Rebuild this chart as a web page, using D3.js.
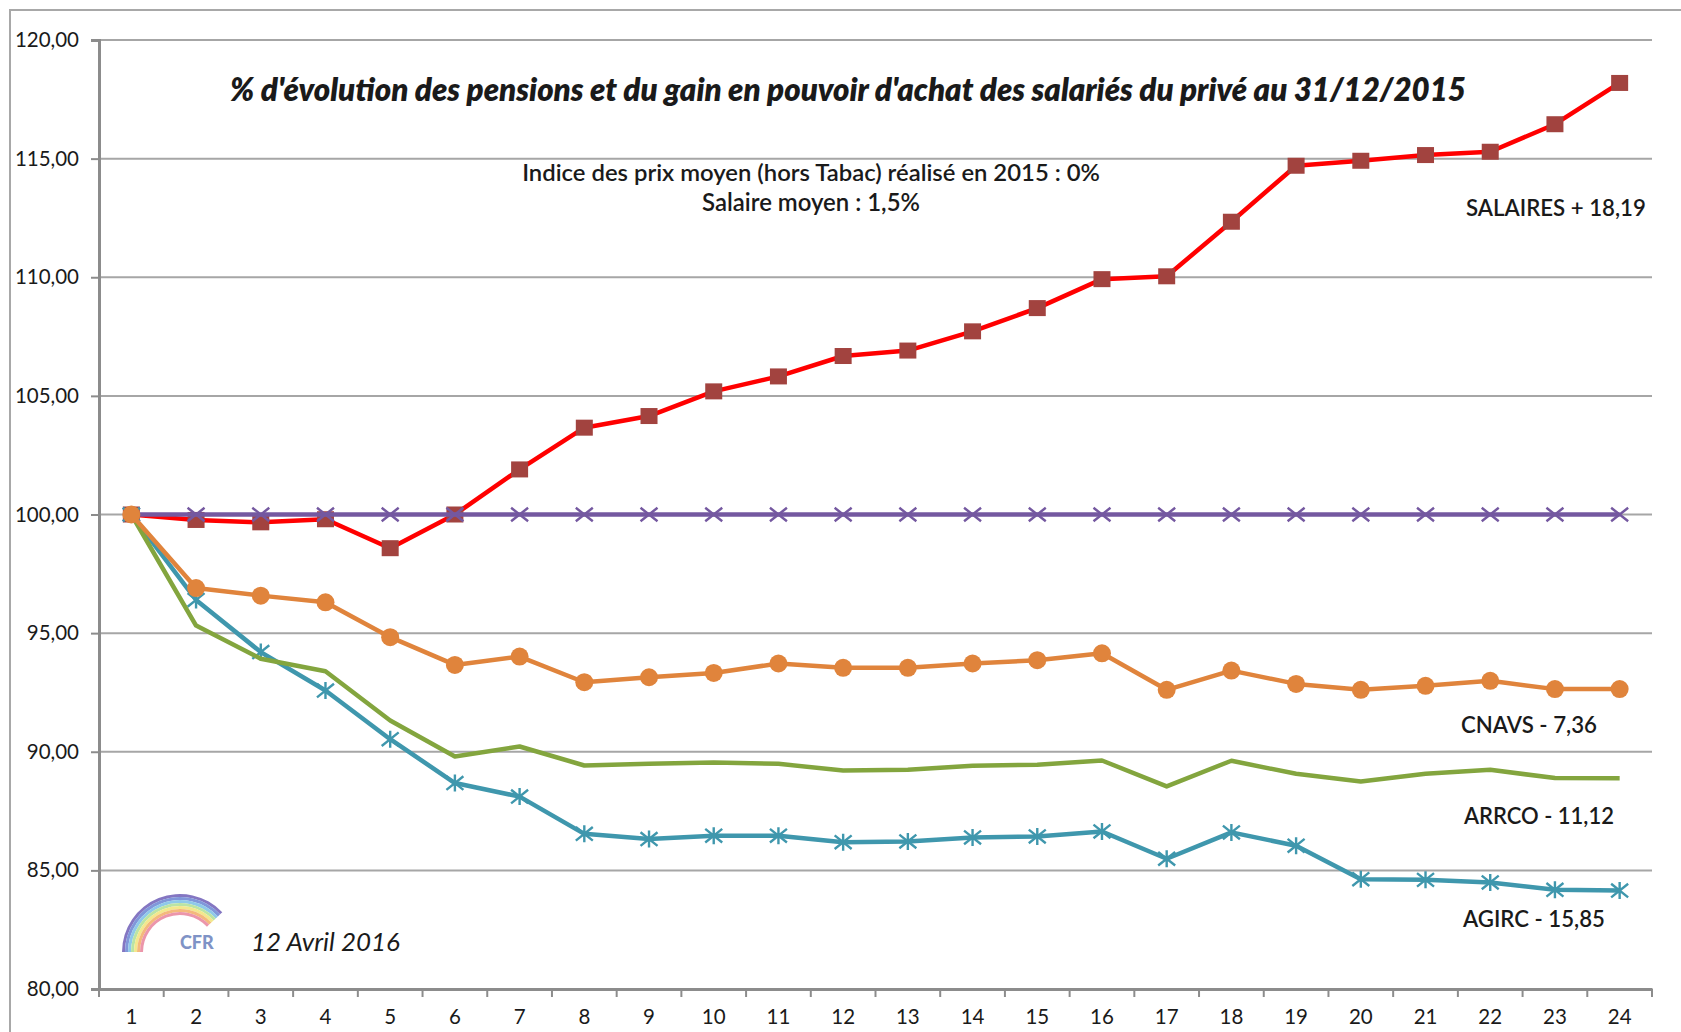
<!DOCTYPE html>
<html>
<head>
<meta charset="utf-8">
<script src="https://cdn.jsdelivr.net/npm/d3@7"></script>
<style>
  body { margin: 0; background: #fff; }
  text { font-family: Lato, "Open Sans", sans-serif; fill: #1a1a1a; }
</style>
</head>
<body>
<div id="wrapper"></div>
<script>
// data
const categories = ["1","2","3","4","5","6","7","8","9","10","11","12","13","14","15","16","17","18","19","20","21","22","23","24"]
const yTicks = [80, 85, 90, 95, 100, 105, 110, 115, 120]

const salaires = [100, 99.77, 99.67, 99.8, 98.58, 100, 101.9, 103.66, 104.15, 105.19, 105.82, 106.68, 106.91, 107.72, 108.7, 109.92, 110.04, 112.34, 114.7, 114.91, 115.15, 115.29, 116.45, 118.19]
const inflation = [100, 100, 100, 100, 100, 100, 100, 100, 100, 100, 100, 100, 100, 100, 100, 100, 100, 100, 100, 100, 100, 100, 100, 100]
const agirc = [100, 96.4, 94.2, 92.58, 90.53, 88.68, 88.11, 86.54, 86.32, 86.46, 86.46, 86.19, 86.22, 86.39, 86.43, 86.64, 85.49, 86.6, 86.04, 84.63, 84.6, 84.49, 84.18, 84.15]
const arrco = [100, 95.32, 93.92, 93.39, 91.32, 89.8, 90.22, 89.42, 89.49, 89.55, 89.49, 89.21, 89.24, 89.41, 89.45, 89.63, 88.54, 89.62, 89.07, 88.75, 89.07, 89.24, 88.89, 88.88]
const cnavs = [100, 96.9, 96.58, 96.3, 94.83, 93.66, 94.01, 92.93, 93.14, 93.32, 93.72, 93.54, 93.54, 93.72, 93.86, 94.15, 92.61, 93.42, 92.86, 92.61, 92.78, 92.99, 92.64, 92.64]

const titleText = "% d'évolution des pensions et du gain en pouvoir d'achat des salariés du privé au 31/12/2015"
const noteLines = ["Indice des prix moyen (hors Tabac) réalisé en 2015 : 0%", "Salaire moyen : 1,5%"]
const endLabels = ["SALAIRES + 18,19", "CNAVS - 7,36", "ARRCO - 11,12", "AGIRC - 15,85"]
const dateText = "12 Avril 2016"

// dimensions
const dimensions = {
  width: 1681,
  height: 1032,
  margin: { top: 40, right: 29, bottom: 43, left: 99 },
}
dimensions.boundedWidth = dimensions.width - dimensions.margin.left - dimensions.margin.right
dimensions.boundedHeight = dimensions.height - dimensions.margin.top - dimensions.margin.bottom

const svg = d3.select("#wrapper").append("svg")
  .attr("width", dimensions.width)
  .attr("height", dimensions.height)

svg.append("rect")
  .attr("x", 10).attr("y", 10)
  .attr("width", dimensions.width + 20).attr("height", dimensions.height + 20)
  .attr("fill", "#fff")
  .attr("stroke", "#a8a8a8")
  .attr("stroke-width", 2)

const bounds = svg.append("g")
  .attr("transform", `translate(${dimensions.margin.left},${dimensions.margin.top})`)

// scales
const x = d3.scaleBand().domain(categories).range([0, dimensions.boundedWidth])
const xc = d => x(d) + x.bandwidth() / 2
const y = d3.scaleLinear().domain([80, 120]).range([dimensions.boundedHeight, 0])

// grid
bounds.append("g").selectAll("line")
  .data(yTicks.filter(d => d > 80))
  .join("line")
    .attr("x1", 0).attr("x2", dimensions.boundedWidth)
    .attr("y1", d => y(d)).attr("y2", d => y(d))
    .attr("stroke", "#a6a6a6")
    .attr("stroke-width", 2)

// y axis
const yAxis = bounds.append("g")
  .call(d3.axisLeft(y).tickValues(yTicks).tickSize(8).tickPadding(12)
    .tickFormat(d => d3.format(".2f")(d).replace(".", ",")))
yAxis.select(".domain").attr("stroke", "#8c8c8c").attr("stroke-width", 3)
yAxis.selectAll(".tick line").attr("stroke", "#8c8c8c").attr("stroke-width", 2)
yAxis.selectAll("text").attr("font-size", 20.5).attr("fill", "#1a1a1a")

// x axis
const xAxis = bounds.append("g")
  .attr("transform", `translate(0,${dimensions.boundedHeight})`)
  .call(d3.axisBottom(x).tickSize(0).tickPadding(20))
xAxis.select(".domain").attr("stroke", "#8c8c8c").attr("stroke-width", 3)
xAxis.selectAll("text").attr("font-size", 20.5).attr("fill", "#1a1a1a")
bounds.append("g").selectAll("line")
  .data(categories.concat(["end"]))
  .join("line")
    .attr("x1", (d, i) => i * x.bandwidth()).attr("x2", (d, i) => i * x.bandwidth())
    .attr("y1", dimensions.boundedHeight).attr("y2", dimensions.boundedHeight + 8)
    .attr("stroke", "#8c8c8c").attr("stroke-width", 2)

// series
const lineGen = d3.line().x((d, i) => xc(categories[i])).y(d => y(d))

const series = [
  { values: salaires, color: "#ff0000", marker: "square", markerColor: "#a2433f" },
  { values: inflation, color: "#7458a0", marker: "x", markerColor: "#7458a0" },
  { values: agirc, color: "#3f97ad", marker: "star", markerColor: "#3f97ad" },
  { values: arrco, color: "#83a53e", marker: "none" },
  { values: cnavs, color: "#e0843c", marker: "circle", markerColor: "#e0843c" },
]

series.forEach(s => {
  const g = bounds.append("g")
  g.append("path")
    .datum(s.values)
    .attr("d", lineGen)
    .attr("fill", "none")
    .attr("stroke", s.color)
    .attr("stroke-width", 4.5)
    .attr("stroke-linejoin", "round")

  const pts = g.selectAll("g.pt")
    .data(s.values)
    .join("g")
      .attr("transform", (d, i) => `translate(${xc(categories[i])},${y(d)})`)

  if (s.marker == "square") {
    pts.append("rect").attr("x", -8.5).attr("y", -8).attr("width", 17).attr("height", 16)
      .attr("fill", s.markerColor)
  } else if (s.marker == "circle") {
    pts.append("circle").attr("r", 9).attr("fill", s.markerColor)
  } else if (s.marker == "x" || s.marker == "star") {
    const r = 8.5
    pts.append("path")
      .attr("d", `M${-r},${-r * 0.8}L${r},${r * 0.8}M${-r},${r * 0.8}L${r},${-r * 0.8}` +
        (s.marker == "star" ? `M0,${-r}L0,${r}` : ""))
      .attr("stroke", s.markerColor)
      .attr("stroke-width", 2.4)
      .attr("fill", "none")
  }
})

// texts
const fitText = (sel, width) => {
  const w = sel.node().getComputedTextLength()
  const fs = +sel.attr("font-size")
  sel.attr("font-size", fs * width / w)
}

svg.append("text")
  .attr("x", 848).attr("y", 101)
  .attr("text-anchor", "middle")
  .attr("font-size", 26)
  .attr("font-weight", 800)
  .attr("font-style", "italic")
  .attr("fill", "#141420")
  .text(titleText)
  .call(fitText, 1236)

noteLines.forEach((t, i) => {
  svg.append("text")
    .attr("x", 811).attr("y", 181 + i * 30)
    .attr("text-anchor", "middle")
    .attr("font-size", 20)
    .attr("font-weight", 600)
    .text(t)
    .call(fitText, i == 0 ? 578 : 218)
})

const labelPos = [
  { x: 1466, y: 216, w: 180 },
  { x: 1461, y: 733, w: 136 },
  { x: 1464, y: 824, w: 150 },
  { x: 1463, y: 927, w: 142 },
]
endLabels.forEach((t, i) => {
  svg.append("text")
    .attr("x", labelPos[i].x).attr("y", labelPos[i].y)
    .attr("font-size", 20)
    .attr("font-weight", 600)
    .text(t)
    .call(fitText, labelPos[i].w)
})

svg.append("text")
  .attr("x", 251).attr("y", 951)
  .attr("font-size", 22)
  .attr("font-style", "italic")
  .text(dateText)
  .call(fitText, 149)

// CFR logo
const logo = svg.append("g").attr("transform", "translate(180,952)").attr("opacity", 0.85)
const bands = ["#6f5fb8", "#6a86d4", "#7cc0e6", "#b0e095", "#f1e47a", "#f3ad66", "#e9849c"]
bands.forEach((c, i) => {
  logo.append("path")
    .attr("d", d3.arc()
      .innerRadius(58 - (i + 1) * 3)
      .outerRadius(58 - i * 3)
      .startAngle(-Math.PI / 2)
      .endAngle(Math.PI * 0.26)())
    .attr("fill", c)
})
svg.append("text")
  .attr("x", 180).attr("y", 949)
  .attr("font-size", 18)
  .attr("font-weight", 900)
  .style("fill", "#7f93c6")
  .text("CFR")
</script>
</body>
</html>
